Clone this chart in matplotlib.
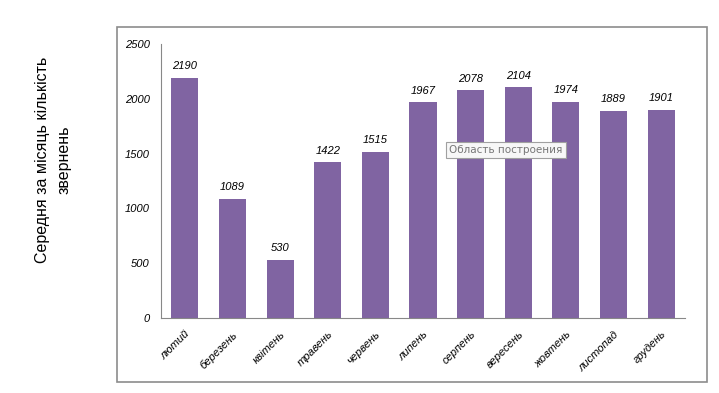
import matplotlib.pyplot as plt
from matplotlib.patches import Rectangle

months = ['лютий', 'березень', 'квітень', 'травень', 'червень', 'липень',
          'серпень', 'вересень', 'жовтень', 'листопад', 'грудень']
values = [2190, 1089, 530, 1422, 1515, 1967, 2078, 2104, 1974, 1889, 1901]
yticks = [0, 500, 1000, 1500, 2000, 2500]

plt.rcParams['font.family'] = ['Liberation Sans', 'DejaVu Sans']

fig = plt.figure(figsize=(7.19, 3.93), dpi=100)
ax = fig.add_axes([161 / 719, 75 / 393, 524 / 719, 274 / 393])

x = range(len(months))
bars = ax.bar(x, values, width=0.57, color='#8064A2')
for i, v in zip(x, values):
    ax.text(i, v + 60, str(v), ha='center', va='bottom',
            fontsize=8, style='italic')

ax.set_xlim(-0.5, len(months) - 0.5)
ax.set_ylim(0, 2500)
ax.set_yticks(yticks)
ax.set_yticklabels([str(t) for t in yticks], fontsize=8, style='italic')
ax.set_xticks(list(x))
ax.set_xticklabels(months, rotation=45, ha='right', rotation_mode='anchor',
                   fontsize=8, style='italic')
ax.tick_params(length=0, pad=8)
for s in ['top', 'right']:
    ax.spines[s].set_visible(False)
for s in ['left', 'bottom']:
    ax.spines[s].set_color('#888888')

# outer frame of the plot area
fig.patches.append(Rectangle((117 / 719, 11 / 393), 590 / 719, 355 / 393,
                             transform=fig.transFigure, fill=False,
                             edgecolor='#8c8c8c', linewidth=1.2))

fig.text(53 / 719, 1 - 160 / 393, 'Середня за місяць кількість\nзвернень',
         rotation=90, ha='center', va='center', fontsize=11.5,
         multialignment='center', linespacing=1.55)

# tooltip
fig.text(506 / 719, 1 - 150 / 393, 'Область построения', ha='center',
         va='center', fontsize=7.5, color='#777777', family='DejaVu Sans',
         bbox=dict(boxstyle='square,pad=0.3', facecolor='#f7f7f7',
                   edgecolor='#a0a0a0', linewidth=0.8))

fig.savefig('out.png', dpi=100)
